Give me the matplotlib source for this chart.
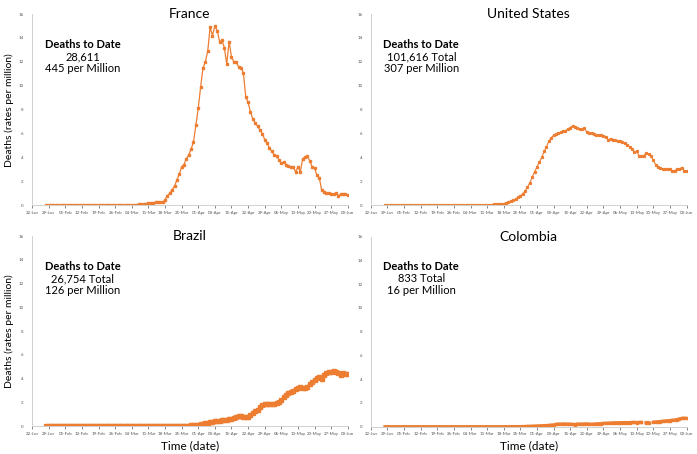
import numpy as np
import pandas as pd
import matplotlib
matplotlib.use('Agg')
import matplotlib.pyplot as plt
import matplotlib.dates as mdates

plt.rcParams['font.family'] = ['Lato', 'DejaVu Sans']

# daily deaths per million, 28-Jan to 03-Jun 2020 (rows = weeks starting 28-Jan)
dates = pd.date_range('2020-01-28', '2020-06-03', freq='D')

france = [
    0, 0, 0, 0, 0, 0, 0,
    0, 0, 0, 0, 0, 0, 0,
    0, 0, 0, 0, 0, 0.01, 0.01,
    0.01, 0.01, 0.01, 0.01, 0.01, 0.01, 0.01,
    0.01, 0.01, 0.01, 0.01, 0.02, 0.02, 0.02,
    0.03, 0.03, 0.04, 0.05, 0.06, 0.08, 0.10,
    0.12, 0.15, 0.18, 0.20, 0.25, 0.30, 0.30,
    0.25, 0.45, 0.80, 1.00, 1.30, 1.60, 2.10,
    2.60, 3.20, 3.40, 3.90, 4.20, 4.70, 5.30,
    6.70, 8.10, 9.90, 11.50, 12.00, 12.90, 14.90,
    14.20, 15.00, 14.60, 13.70, 13.80, 13.20, 11.80,
    13.70, 12.40, 12.00, 12.00, 11.60, 11.50, 11.10,
    9.10, 8.60, 7.80, 7.20, 6.90, 6.60, 6.30,
    6.00, 5.50, 5.20, 4.80, 4.50, 4.20, 4.10,
    3.80, 3.50, 3.60, 3.40, 3.30, 3.20, 3.20,
    2.80, 3.20, 2.80, 3.90, 4.00, 4.10, 3.70,
    3.20, 3.10, 2.50, 2.30, 1.25, 1.10, 1.05,
    1.00, 0.95, 0.95, 1.00, 0.80, 0.90, 0.90,
    0.90, 0.88,
]

usa = [
    0, 0, 0, 0, 0, 0, 0,
    0, 0, 0, 0, 0, 0, 0,
    0, 0, 0, 0, 0, 0, 0,
    0, 0, 0, 0, 0, 0, 0,
    0, 0, 0, 0, 0, 0, 0.01,
    0.01, 0.01, 0.01, 0.02, 0.02, 0.02, 0.02,
    0.03, 0.03, 0.04, 0.05, 0.06, 0.07, 0.09,
    0.11, 0.14, 0.20, 0.27, 0.35, 0.42, 0.52,
    0.65, 0.80, 0.95, 1.20, 1.50, 1.90, 2.35,
    2.80, 3.20, 3.60, 4.00, 4.50, 4.90, 5.35,
    5.65, 5.85, 5.95, 6.05, 6.10, 6.20, 6.25,
    6.35, 6.50, 6.65, 6.55, 6.45, 6.40, 6.40,
    6.45, 6.10, 6.05, 6.05, 6.00, 5.85, 5.85,
    5.85, 5.80, 5.75, 5.50, 5.55, 5.50, 5.45,
    5.35, 5.40, 5.30, 5.20, 5.05, 4.90, 4.70,
    4.45, 4.50, 4.15, 4.15, 4.15, 4.35, 4.25,
    4.15, 3.75, 3.40, 3.20, 3.10, 3.05, 3.05,
    3.00, 3.00, 2.90, 2.90, 3.00, 3.05, 3.15,
    2.90, 2.90,
]

brazil = [
    0, 0, 0, 0, 0, 0, 0,
    0, 0, 0, 0, 0, 0, 0,
    0, 0, 0, 0, 0, 0, 0,
    0, 0, 0, 0, 0, 0, 0,
    0, 0, 0, 0, 0, 0, 0,
    0, 0, 0, 0, 0, 0, 0,
    0, 0, 0, 0, 0, 0, 0,
    0, 0, 0, 0.01, 0.01, 0.01, 0.01,
    0.02, 0.03, 0.03, 0.04, 0.05, 0.07, 0.09,
    0.12, 0.15, 0.18, 0.22, 0.26, 0.30, 0.34,
    0.38, 0.43, 0.45, 0.47, 0.50, 0.52, 0.55,
    0.60, 0.65, 0.70, 0.80, 0.85, 0.85, 0.82,
    0.80, 0.76, 0.95, 1.10, 1.25, 1.37, 1.65,
    1.80, 1.85, 1.85, 1.87, 1.87, 1.90, 1.93,
    2.07, 2.20, 2.50, 2.65, 2.77, 2.90, 3.00,
    3.10, 3.20, 3.33, 3.20, 3.25, 3.33, 3.60,
    3.75, 3.90, 4.05, 4.17, 3.95, 4.30, 4.45,
    4.55, 4.60, 4.65, 4.60, 4.45, 4.30, 4.50,
    4.40, 4.40,
]

colombia = [
    0, 0, 0, 0, 0, 0, 0,
    0, 0, 0, 0, 0, 0, 0,
    0, 0, 0, 0, 0, 0, 0,
    0, 0, 0, 0, 0, 0, 0,
    0, 0, 0, 0, 0, 0, 0,
    0, 0, 0, 0, 0, 0, 0,
    0, 0, 0, 0, 0, 0, 0,
    0, 0, 0, 0, 0.01, 0.01, 0.01,
    0.01, 0.01, 0.02, 0.02, 0.03, 0.03, 0.04,
    0.05, 0.06, 0.07, 0.08, 0.09, 0.10, 0.11,
    0.13, 0.15, 0.20, 0.22, 0.22, 0.22, 0.23,
    0.22, 0.22, 0.20, 0.18, 0.22, 0.22, 0.22,
    0.23, 0.24, 0.22, 0.20, 0.22, 0.24, 0.25,
    0.26, 0.28, 0.29, 0.30, 0.31, 0.32, 0.33,
    0.33, 0.34, 0.34, 0.35, 0.35, 0.35, 0.36,
    0.36, 0.35, 0.36, 0.36, np.nan, 0.35, 0.35,
    np.nan, 0.38, 0.40, 0.42, 0.44, 0.46, 0.48,
    0.50, 0.52, 0.54, 0.56, 0.60, 0.66, 0.70,
    0.72, 0.70,
]

countries = ['France', 'United States', 'Brazil', 'Colombia']
series = [france, usa, brazil, colombia]
totals = ['28,611', '101,616 Total', '26,754 Total', '833 Total']
per_million = ['445 per Million', '307 per Million', '126 per Million', '16 per Million']

orange = '#ED7D31'
styles = [dict(lw=0.9, ms=2.0), dict(lw=0.8, ms=1.3), dict(lw=1.6, ms=2.6), dict(lw=2.4, ms=2.0)]

fig = plt.figure(figsize=(6.97, 4.54), dpi=100)
boxes = [[0.046, 0.548, 0.453, 0.421], [0.532, 0.548, 0.453, 0.421],
         [0.046, 0.061, 0.453, 0.419], [0.532, 0.060, 0.453, 0.419]]

for i in range(4):
    ax = fig.add_axes(boxes[i])
    ax.plot(dates, series[i], color=orange, marker='s', mec=orange, **styles[i])
    ax.set_xlim(pd.Timestamp('2020-01-22'), pd.Timestamp('2020-06-03'))
    ax.set_ylim(0, 16)
    ax.set_yticks(range(0, 17, 2))
    ax.set_xticks(pd.date_range('2020-01-22', '2020-06-03', freq='7D'))
    ax.xaxis.set_major_formatter(mdates.DateFormatter('%d-%b'))
    ax.tick_params(labelsize=3.2, colors='#555555', width=0.5)
    ax.tick_params(axis='x', length=2, pad=2)
    ax.tick_params(axis='y', length=0, pad=6)
    for s in ['top', 'right']:
        ax.spines[s].set_visible(False)
    for s in ['left', 'bottom']:
        ax.spines[s].set_color('#d0d0d0')
        ax.spines[s].set_linewidth(0.7)
    ax.text(0.5, 1.0, countries[i], transform=ax.transAxes, ha='center', va='center',
            fontsize=10, color='black')
    ax.text(0.16, 0.84, 'Deaths to Date', transform=ax.transAxes, ha='center', va='center',
            fontsize=8, fontweight='bold')
    ax.text(0.16, 0.777, totals[i], transform=ax.transAxes, ha='center', va='center', fontsize=8)
    ax.text(0.16, 0.714, per_million[i], transform=ax.transAxes, ha='center', va='center', fontsize=8)
    if i in (0, 2):
        ax.set_ylabel('Deaths (rates per million)', fontsize=7.5, labelpad=3)
    if i in (2, 3):
        ax.set_xlabel('Time (date)', fontsize=8.5, labelpad=3)

fig.savefig('out.png', dpi=100)
